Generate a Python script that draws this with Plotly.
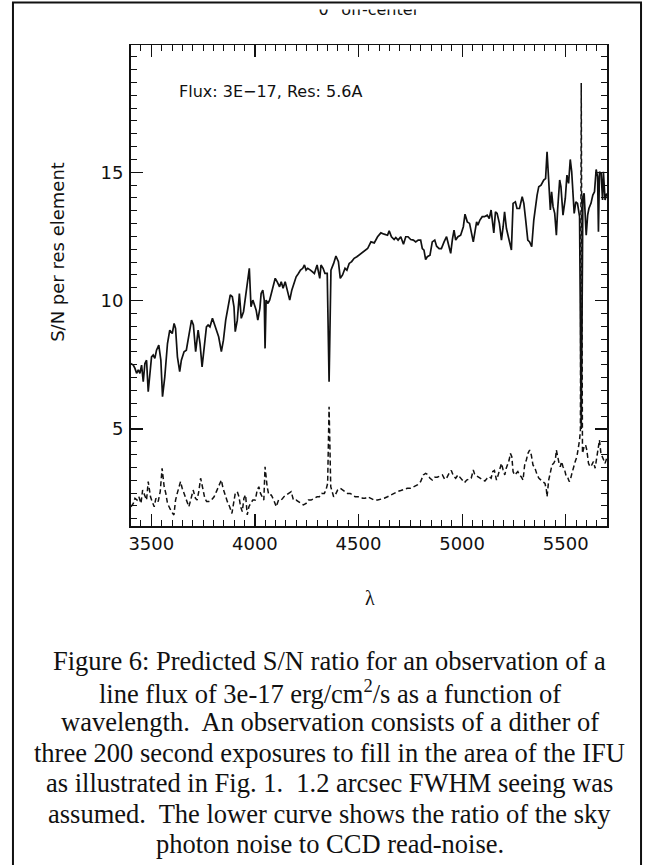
import plotly.graph_objects as go

# ---------------- data ----------------
wl_total = [3400, 3413, 3421, 3429, 3437, 3445, 3453, 3461, 3469, 3477, 3485, 3501, 3509, 3517, 3525,
            3536, 3546, 3554, 3565, 3578, 3589, 3601, 3610, 3617, 3626, 3637, 3645, 3658, 3669, 3681,
            3694, 3703, 3714, 3726, 3735, 3745, 3755, 3766, 3774, 3783, 3795, 3806, 3817, 3825, 3838,
            3848, 3859, 3870, 3881, 3891, 3899, 3905, 3915, 3925, 3934, 3945, 3953, 3963, 3973, 3981,
            3990, 3998, 4006, 4014, 4024, 4030, 4038, 4045, 4049, 4054, 4063, 4071, 4082, 4091, 4098,
            4107, 4119, 4127, 4136, 4146, 4159, 4168, 4178, 4188, 4199, 4210, 4220, 4231, 4239, 4247,
            4255, 4268, 4277, 4287, 4300, 4306, 4313, 4319, 4329, 4338, 4349, 4358, 4367, 4380, 4391,
            4403, 4412, 4423, 4435, 4444, 4455, 4467, 4479, 4492, 4504, 4515, 4528, 4544, 4560, 4576,
            4592, 4608, 4624, 4640, 4648, 4659, 4672, 4680, 4691, 4704, 4717, 4728, 4739, 4752, 4765,
            4776, 4788, 4800, 4808, 4816, 4824, 4832, 4845, 4856, 4868, 4877, 4889, 4900, 4913, 4925,
            4937, 4945, 4953, 4961, 4969, 4980, 4993, 5006, 5014, 5025, 5036, 5044, 5054, 5062, 5070,
            5076, 5086, 5097, 5108, 5121, 5131, 5140, 5147, 5153, 5161, 5169, 5180, 5190, 5198, 5205,
            5214, 5225, 5238, 5246, 5257, 5265, 5277, 5290, 5298, 5307, 5317, 5326, 5336, 5346, 5354,
            5362, 5370, 5381, 5394, 5403, 5410, 5418, 5426, 5432, 5439, 5447, 5455, 5461, 5471, 5477,
            5487, 5498, 5506, 5514, 5522, 5529, 5535, 5541, 5549, 5557, 5567, 5575, 5583, 5589, 5599,
            5606, 5612, 5622, 5631, 5639, 5647, 5654, 5658, 5663, 5671, 5678, 5682, 5690, 5698]
sn_total = [7.55, 7.49, 7.36, 7.17, 7.30, 7.17, 7.49, 6.84, 7.55, 7.68, 6.45, 7.81, 7.88, 7.75, 8.07,
            8.27, 7.68, 6.26, 7.03, 8.33, 8.85, 8.72, 9.11, 8.92, 7.81, 7.23, 7.68, 8.01, 8.07, 8.59,
            9.24, 9.05, 8.01, 8.85, 8.33, 7.42, 8.20, 8.98, 9.05, 8.98, 9.31, 9.05, 8.85, 8.59, 8.01,
            8.46, 9.24, 9.70, 10.22, 10.15, 9.76, 8.79, 9.24, 10.28, 9.31, 9.57, 10.09, 10.54, 11.26, 9.76,
            10.02, 9.83, 9.63, 9.24, 9.70, 10.28, 10.41, 10.02, 8.14, 10.02, 9.89, 10.02, 10.41, 10.74, 10.87,
            10.74, 10.54, 10.74, 10.48, 10.74, 10.28, 10.02, 10.41, 10.67, 10.93, 11.06, 11.19, 11.26, 11.39, 11.19,
            11.26, 11.19, 11.13, 11.06, 11.39, 11.19, 10.87, 11.39, 11.26, 11.06, 11.06, 6.84, 11.19, 11.45, 11.74,
            11.52, 10.87, 11.00, 11.26, 11.19, 11.45, 11.52, 11.65, 11.71, 11.78, 11.84, 11.91, 12.03, 12.29, 12.25,
            12.49, 12.64, 12.59, 12.55, 12.72, 12.49, 12.38, 12.46, 12.36, 12.49, 12.20, 12.49, 12.49, 12.38, 12.36,
            12.29, 12.36, 12.36, 12.03, 11.97, 11.60, 11.71, 11.77, 12.29, 12.36, 12.12, 12.03, 12.03, 12.29, 12.49,
            12.10, 11.84, 12.38, 12.75, 12.36, 12.49, 12.55, 12.88, 13.37, 13.07, 13.01, 12.68, 12.29, 12.68, 13.07,
            12.94, 13.14, 13.27, 13.27, 13.33, 13.20, 13.53, 13.07, 12.64, 13.46, 13.40, 13.01, 12.36, 12.88, 13.46,
            12.81, 12.36, 11.97, 13.79, 13.85, 13.59, 13.59, 14.05, 13.79, 13.14, 12.36, 12.29, 12.10, 13.14, 13.66,
            14.11, 14.44, 14.50, 14.70, 14.76, 15.80, 14.44, 13.53, 14.24, 13.66, 13.40, 12.55, 13.53, 14.70, 14.44,
            13.33, 13.98, 14.89, 14.57, 15.50, 15.02, 13.98, 13.40, 13.85, 13.79, 13.27, 5.00, 14.05, 14.18, 12.55,
            13.33, 13.59, 13.79, 14.11, 14.24, 15.11, 14.83, 12.68, 15.02, 14.96, 13.92, 15.02, 13.92, 14.18]

wl_sky = [3402, 3413, 3421, 3431, 3440, 3450, 3458, 3469, 3477, 3485, 3496, 3504, 3514, 3522, 3533,
          3543, 3552, 3562, 3570, 3578, 3589, 3597, 3609, 3617, 3625, 3633, 3641, 3649, 3658, 3670,
          3681, 3690, 3702, 3713, 3721, 3729, 3738, 3750, 3758, 3767, 3777, 3790, 3803, 3814, 3825,
          3838, 3846, 3857, 3867, 3878, 3889, 3897, 3905, 3915, 3923, 3931, 3939, 3947, 3955, 3963,
          3971, 3979, 3990, 4002, 4011, 4019, 4027, 4035, 4043, 4049, 4059, 4067, 4079, 4091, 4103,
          4114, 4127, 4140, 4151, 4162, 4175, 4186, 4199, 4210, 4223, 4234, 4247, 4258, 4271, 4287,
          4300, 4311, 4322, 4335, 4343, 4351, 4358, 4366, 4380, 4388, 4399, 4412, 4423, 4436, 4447,
          4460, 4471, 4484, 4496, 4508, 4520, 4532, 4544, 4557, 4576, 4592, 4608, 4624, 4640, 4656,
          4672, 4688, 4704, 4720, 4736, 4752, 4768, 4784, 4800, 4813, 4824, 4836, 4845, 4856, 4868,
          4880, 4893, 4905, 4916, 4925, 4937, 4948, 4958, 4969, 4980, 4993, 5002, 5012, 5022, 5033,
          5044, 5054, 5060, 5070, 5081, 5092, 5102, 5110, 5121, 5131, 5140, 5148, 5156, 5166, 5174,
          5182, 5190, 5198, 5206, 5213, 5221, 5227, 5233, 5240, 5246, 5253, 5261, 5269, 5277, 5285,
          5294, 5302, 5310, 5318, 5326, 5334, 5342, 5352, 5362, 5371, 5381, 5391, 5400, 5407, 5410,
          5418, 5426, 5434, 5442, 5450, 5455, 5461, 5468, 5474, 5480, 5487, 5495, 5503, 5511, 5517,
          5522, 5530, 5538, 5546, 5554, 5562, 5567, 5571, 5575, 5581, 5589, 5596, 5602, 5610, 5618,
          5626, 5634, 5642, 5650, 5657, 5663, 5670, 5678, 5682, 5690, 5698]
ratio_sky = [1.97, 2.10, 2.30, 2.23, 2.36, 2.10, 2.62, 2.36, 2.23, 2.95, 2.36, 2.17, 1.97, 2.30, 2.17,
             2.56, 3.47, 2.75, 2.49, 2.10, 1.91, 1.78, 1.65, 2.23, 2.49, 2.69, 2.95, 2.69, 2.49, 2.30,
             1.97, 2.23, 2.62, 2.30, 2.23, 2.56, 3.08, 2.62, 2.30, 2.17, 2.17, 2.23, 2.36, 2.56, 2.75,
             3.01, 2.69, 2.36, 2.17, 1.97, 1.71, 2.10, 2.49, 2.56, 2.36, 1.97, 1.78, 2.30, 2.43, 1.65,
             1.97, 2.10, 2.23, 2.23, 2.62, 2.75, 2.49, 2.36, 2.23, 3.53, 2.75, 2.43, 2.43, 2.23, 1.97,
             2.23, 2.23, 2.36, 2.43, 2.49, 2.56, 2.23, 2.23, 2.17, 2.10, 2.04, 2.10, 2.23, 2.23, 2.30,
             2.36, 2.36, 2.49, 2.49, 2.62, 2.88, 5.87, 2.75, 2.36, 2.43, 2.62, 2.69, 2.62, 2.56, 2.49,
             2.49, 2.43, 2.36, 2.36, 2.36, 2.30, 2.30, 2.36, 2.30, 2.23, 2.23, 2.26, 2.30, 2.36, 2.43,
             2.49, 2.56, 2.60, 2.65, 2.69, 2.69, 2.75, 2.82, 2.95, 3.21, 3.27, 3.21, 3.08, 3.01, 3.12,
             3.12, 3.17, 3.21, 3.04, 3.08, 3.27, 3.38, 3.17, 3.08, 3.21, 3.08, 2.99, 2.91, 3.01, 3.04,
             3.08, 3.40, 3.25, 3.17, 3.12, 3.08, 3.01, 2.97, 3.08, 3.14, 3.08, 3.34, 3.38, 3.01, 3.21,
             3.47, 3.66, 3.40, 3.21, 3.47, 3.66, 3.79, 4.05, 3.92, 3.34, 3.21, 3.27, 3.34, 3.21, 3.14,
             3.01, 3.60, 3.79, 4.05, 4.18, 3.99, 3.60, 3.47, 3.21, 3.08, 3.01, 2.95, 2.88, 2.62, 2.36,
             3.01, 3.34, 3.60, 3.66, 3.79, 4.18, 3.86, 3.66, 3.53, 3.73, 3.53, 3.40, 3.14, 3.08, 2.95,
             3.01, 3.27, 3.53, 3.73, 3.92, 4.31, 4.57, 4.96, 18.48, 4.05, 4.31, 4.38, 4.18, 3.66, 3.53,
             3.60, 3.73, 3.47, 3.92, 4.31, 4.57, 4.05, 3.86, 3.79, 3.66, 3.86]

x_ticks = [3500, 4000, 4500, 5000, 5500]
y_ticks = [5, 10, 15]
x_range = [3400, 5700]
y_range = [1.22, 19.96]

title_text = '0" off-center'
note_text = "Flux: 3E\u221217, Res: 5.6A"
y_title = "S/N per res element"
x_title = "\u03bb"
caption_lines = [
    "Figure 6: Predicted S/N ratio for an observation of a",
    "line flux of 3e-17 erg/cm<sup>2</sup>/s as a function of",
    "wavelength.\u00a0 An observation consists of a dither of",
    "three 200 second exposures to fill in the area of the IFU",
    "as illustrated in Fig. 1.\u00a0 1.2 arcsec FWHM seeing was",
    "assumed.\u00a0 The lower curve shows the ratio of the sky",
    "photon noise to CCD read-noise.",
]

# ---------------- layout constants (pixels) ----------------
W, H = 650, 865
PL, PR, PT, PB = 129, 607, 45, 526
sans = "DejaVu Sans"
serif = "Liberation Serif"
ink = "#111111"

def px(x):
    return x / W

def py(y):
    return 1 - y / H

# strip for the cropped title (pixels): clip top at 9.5, text baseline ~15
T_TOP, T_BOT = 9.5, 30.0

fig = go.Figure()

fig.add_trace(go.Scatter(x=wl_total, y=sn_total, mode="lines",
                         line=dict(color=ink, width=1.7), showlegend=False, hoverinfo="skip"))
fig.add_trace(go.Scatter(x=wl_sky, y=ratio_sky, mode="lines",
                         line=dict(color=ink, width=1.5, dash="5px,3px"), showlegend=False, hoverinfo="skip"))

# clipped title (only the bottom of the letters is visible, as in the cropped reference)
fig.add_trace(go.Scatter(x=[px(368)], y=[(T_BOT - 10.5) / (T_BOT - T_TOP)], mode="text",
                         text=[title_text], textposition="middle center", cliponaxis=True,
                         textfont=dict(family=sans, size=16, color=ink),
                         xaxis="x2", yaxis="y2", showlegend=False, hoverinfo="skip"))

axis_common = dict(showline=True, linewidth=1.5, linecolor=ink, mirror="ticks",
                   ticks="inside", ticklen=12, tickwidth=1.2, tickcolor=ink,
                   showgrid=False, zeroline=False,
                   tickfont=dict(family=sans, size=18, color=ink))

fig.update_layout(
    width=W, height=H,
    margin=dict(l=0, r=0, t=0, b=0, pad=0),
    paper_bgcolor="white", plot_bgcolor="white",
    hovermode=False,
    xaxis=dict(domain=[px(PL), px(PR)], range=x_range, tickmode="array", tickvals=x_ticks,
               ticktext=[str(v) for v in x_ticks],
               minor=dict(dtick=50, tick0=3400, ticks="inside", ticklen=6, tickwidth=1, tickcolor=ink),
               ticklabelstandoff=1, **axis_common),
    yaxis=dict(domain=[py(PB), py(PT)], range=y_range, tickmode="array", tickvals=y_ticks,
               ticktext=[str(v) for v in y_ticks],
               minor=dict(dtick=0.5, tick0=0, ticks="inside", ticklen=6, tickwidth=1, tickcolor=ink),
               ticklabelstandoff=2, **axis_common),
    xaxis2=dict(domain=[0, 1], range=[0, 1], visible=False, anchor="y2"),
    yaxis2=dict(domain=[py(T_BOT), py(T_TOP)], range=[0, 1], visible=False, anchor="x2"),
)

# lambda x-label, y-label, inner note
fig.add_annotation(x=px(369), y=py(598), xref="paper", yref="paper", text=x_title, showarrow=False,
                   font=dict(family=serif, size=20, color=ink), xanchor="center", yanchor="middle")
fig.add_annotation(x=px(55), y=py(252), xref="paper", yref="paper", text=y_title, showarrow=False,
                   textangle=-90, font=dict(family=sans, size=18, color=ink),
                   xanchor="center", yanchor="middle")
fig.add_annotation(x=px(176), y=py(92), xref="paper", yref="paper", text=note_text, showarrow=False,
                   font=dict(family=sans, size=16, color=ink), xanchor="left", yanchor="middle")

# caption lines
for i, line in enumerate(caption_lines):
    fig.add_annotation(x=px(329), y=py(661 + 30.5 * i), xref="paper", yref="paper", text=line,
                       showarrow=False, font=dict(family=serif, size=26.5, color=ink),
                       xanchor="center", yanchor="middle")

# page frame (left, top and right edges)
fig.add_shape(type="path", xref="paper", yref="paper",
              path=f"M {px(11)} {py(870)} L {px(11)} {py(2.5)} L {px(641)} {py(2.5)} L {px(641)} {py(870)}",
              line=dict(color=ink, width=2))

# the browser's default 8px body margin would shift the figure; remove it
fig.write_html("out.html", config={"displayModeBar": False, "staticPlot": True},
               post_script="document.body.style.margin='0px';")
